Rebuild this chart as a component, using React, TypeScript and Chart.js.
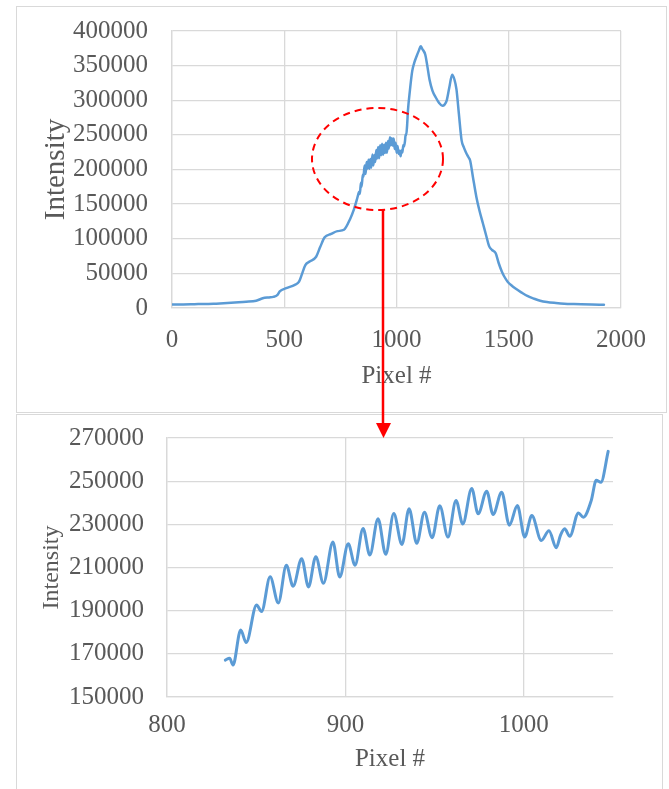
import React, { useEffect, useRef } from 'react';
import { Chart, registerables } from 'chart.js';

Chart.register(...registerables);

// ---------- Data ----------
// Full spectrum, part before the zoomed window
const fullLeftX = [0, 50, 100, 150, 185, 230, 280, 330, 375, 404, 432, 451, 470, 480, 509, 547, 566, 580, 594, 613, 642, 660, 680, 709, 737, 766, 794, 810, 823];
const fullLeftY = [5000, 5200, 5500, 5800, 6000, 7000, 8000, 9000, 10500, 14000, 15300, 16000, 19000, 24000, 28700, 33500, 38000, 50000, 62000, 67000, 74000, 88000, 102000, 107000, 111000, 113000, 129000, 142000, 156000];

// Zoomed window (also part of the full spectrum)
const zoomX = [832.7, 835.1, 837.0, 841.3, 844.4, 850.2, 853.0, 857.8, 862.4, 866.9, 870.7, 875.5, 879.3, 883.4, 887.7, 893.0, 896.8, 901.6, 905.4, 909.9, 913.7, 918.3, 922.6, 927.1, 931.7, 935.7, 940.0, 944.3, 948.6, 952.9, 957.5, 962.0, 965.8, 970.8, 974.4, 979.2, 982.8, 987.6, 991.9, 996.4, 1000.5, 1004.5, 1009.8, 1014.1, 1018.2, 1020.6, 1022.9, 1025.8, 1030.6, 1033.4, 1037.8, 1040.6, 1043.2, 1047.3];
const zoomY = [167100, 168000, 164800, 181000, 175200, 192600, 189600, 205700, 193600, 211000, 201300, 214100, 201000, 215000, 202700, 221800, 205600, 221000, 211000, 228100, 215800, 232600, 216100, 235000, 220700, 237200, 221200, 235600, 223800, 238600, 224100, 241000, 230200, 246600, 234900, 245300, 234600, 244900, 229600, 238700, 224100, 234100, 222500, 227000, 219200, 225000, 227900, 224500, 235300, 233300, 241000, 250400, 249500, 263800];

// Full spectrum, part after the zoomed window
const fullRightX = [1051, 1060, 1070, 1080, 1090, 1100, 1108, 1115, 1128, 1137, 1147, 1160, 1175, 1190, 1204, 1215, 1223, 1235, 1248, 1258, 1267, 1278, 1290, 1300, 1309, 1320, 1328, 1340, 1356, 1370, 1385, 1400, 1413, 1425, 1442, 1455, 1470, 1480, 1495, 1509, 1530, 1556, 1585, 1613, 1640, 1670, 1710, 1747, 1790, 1823, 1870, 1924];
const fullRightY = [285000, 315000, 342000, 355000, 364000, 372000, 378000, 374000, 366000, 350000, 330000, 314000, 304000, 296000, 292000, 294000, 299000, 318000, 337000, 330000, 316000, 280000, 242000, 232000, 225000, 218000, 213000, 190000, 160000, 140000, 122000, 104000, 89000, 84000, 79000, 65000, 52000, 45500, 38000, 33500, 28000, 22500, 17000, 13400, 10500, 8600, 7200, 6200, 5600, 5300, 5000, 4800];

// Tick values
const topXTicks = [0, 500, 1000, 1500, 2000];
const topYTicks = [0, 50000, 100000, 150000, 200000, 250000, 300000, 350000, 400000];
const botXTicks = [800, 900, 1000];
const botYTicks = [150000, 170000, 190000, 210000, 230000, 250000, 270000];

const xTitle = 'Pixel #';
const yTitle = 'Intensity';

// ---------- Styles ----------
const FONT = '"Liberation Serif", "Times New Roman", serif';
const TEXT = '#595959';
const GRID = '#d9d9d9';
const LINE = '#5B9BD5';

function toPoints(xs: number[], ys: number[]) {
  return xs.map((x, i) => ({ x, y: ys[i] }));
}

type Cfg = {
  points: { x: number; y: number }[];
  xMin: number; xMax: number; yMin: number; yMax: number;
  xTicks: number[]; yTicks: number[];
  padTop: number; padRight: number;
  yWidth: number; xHeight: number;
  yTickPad: number; xTickPad: number;
  yTitleSize: number; yTitlePad: number; xTitlePad: number;
  lineWidth: number;
};

function makeConfig(c: Cfg): any {
  const tickFont = { family: FONT, size: 25 };
  return {
    type: 'line',
    data: {
      datasets: [
        {
          data: c.points,
          borderColor: LINE,
          borderWidth: c.lineWidth,
          pointRadius: 0,
          fill: false,
          cubicInterpolationMode: 'monotone',
          borderJoinStyle: 'round',
          borderCapStyle: 'round',
        },
      ],
    },
    options: {
      responsive: false,
      animation: false,
      devicePixelRatio: 1,
      layout: { padding: { top: c.padTop, right: c.padRight, left: 0, bottom: 0 } },
      plugins: { legend: { display: false }, tooltip: { enabled: false } },
      scales: {
        x: {
          type: 'linear',
          min: c.xMin,
          max: c.xMax,
          afterBuildTicks: (s: any) => { s.ticks = c.xTicks.map((v) => ({ value: v })); },
          afterFit: (s: any) => { s.height = c.xHeight; s.paddingLeft = 0; s.paddingRight = 0; },
          ticks: {
            font: tickFont, color: TEXT, padding: c.xTickPad, maxRotation: 0, autoSkip: false,
            callback: (v: any) => String(v),
          },
          grid: { color: GRID, lineWidth: 1.3, drawTicks: false },
          border: { color: GRID, width: 1.3 },
          title: {
            display: true, text: xTitle, color: TEXT,
            font: { family: FONT, size: 25 },
            padding: { top: 0, bottom: c.xTitlePad },
          },
        },
        y: {
          type: 'linear',
          min: c.yMin,
          max: c.yMax,
          afterBuildTicks: (s: any) => { s.ticks = c.yTicks.map((v) => ({ value: v })); },
          afterFit: (s: any) => { s.width = c.yWidth; s.paddingTop = 0; s.paddingBottom = 0; },
          ticks: {
            font: tickFont, color: TEXT, padding: c.yTickPad, autoSkip: false,
            callback: (v: any) => String(v),
          },
          grid: { color: GRID, lineWidth: 1.3, drawTicks: false },
          border: { color: GRID, width: 1.3 },
          title: {
            display: true, text: yTitle, color: TEXT,
            font: { family: FONT, size: c.yTitleSize },
            padding: { top: c.yTitlePad, bottom: 0 },
          },
        },
      },
    },
  };
}

export default function App() {
  const topRef = useRef<HTMLCanvasElement>(null);
  const botRef = useRef<HTMLCanvasElement>(null);

  useEffect(() => {
    const fullPoints = [
      ...toPoints(fullLeftX, fullLeftY),
      ...toPoints(zoomX, zoomY),
      ...toPoints(fullRightX, fullRightY),
    ];
    const top = new Chart(topRef.current as HTMLCanvasElement, makeConfig({
      points: fullPoints,
      xMin: 0, xMax: 2000, yMin: 0, yMax: 400000,
      xTicks: topXTicks, yTicks: topYTicks,
      padTop: 31, padRight: 48,
      yWidth: 172, xHeight: 105,
      yTickPad: 24, xTickPad: 17,
      yTitleSize: 29, yTitlePad: 39, xTitlePad: 22,
      lineWidth: 2.5,
    }));
    const bot = new Chart(botRef.current as HTMLCanvasElement, makeConfig({
      points: toPoints(zoomX, zoomY),
      xMin: 800, xMax: 1050, yMin: 150000, yMax: 270000,
      xTicks: botXTicks, yTicks: botYTicks,
      padTop: 25, padRight: 56,
      yWidth: 167, xHeight: 92,
      yTickPad: 23, xTickPad: 13,
      yTitleSize: 24, yTitlePad: 37, xTitlePad: 15,
      lineWidth: 3,
    }));
    return () => { top.destroy(); bot.destroy(); };
  }, []);

  return (
    <div style={{ position: 'absolute', left: 0, top: 0, width: 669, height: 789, overflow: 'hidden', background: '#fff' }}>
      <canvas ref={topRef} width={669} height={413} style={{ position: 'absolute', left: 0, top: 0, width: 669, height: 413 }} />
      <canvas ref={botRef} width={669} height={376} style={{ position: 'absolute', left: 0, top: 413, width: 669, height: 376 }} />
      <div style={{ position: 'absolute', left: 16, top: 6, width: 649, height: 405, border: '1.5px solid #d9d9d9', pointerEvents: 'none' }} />
      <div style={{ position: 'absolute', left: 16, top: 414, width: 645, height: 420, border: '1.5px solid #d9d9d9', pointerEvents: 'none' }} />
      <svg width={669} height={789} style={{ position: 'absolute', left: 0, top: 0, pointerEvents: 'none' }}>
        <ellipse cx={377.5} cy={159} rx={65.5} ry={51} fill="none" stroke="#FF0000" strokeWidth={2} strokeDasharray="7 5" />
        <line x1={383} y1={210} x2={383} y2={424} stroke="#FF0000" strokeWidth={2.5} />
        <polygon points="376,423 391,423 383.5,438" fill="#FF0000" />
      </svg>
    </div>
  );
}
